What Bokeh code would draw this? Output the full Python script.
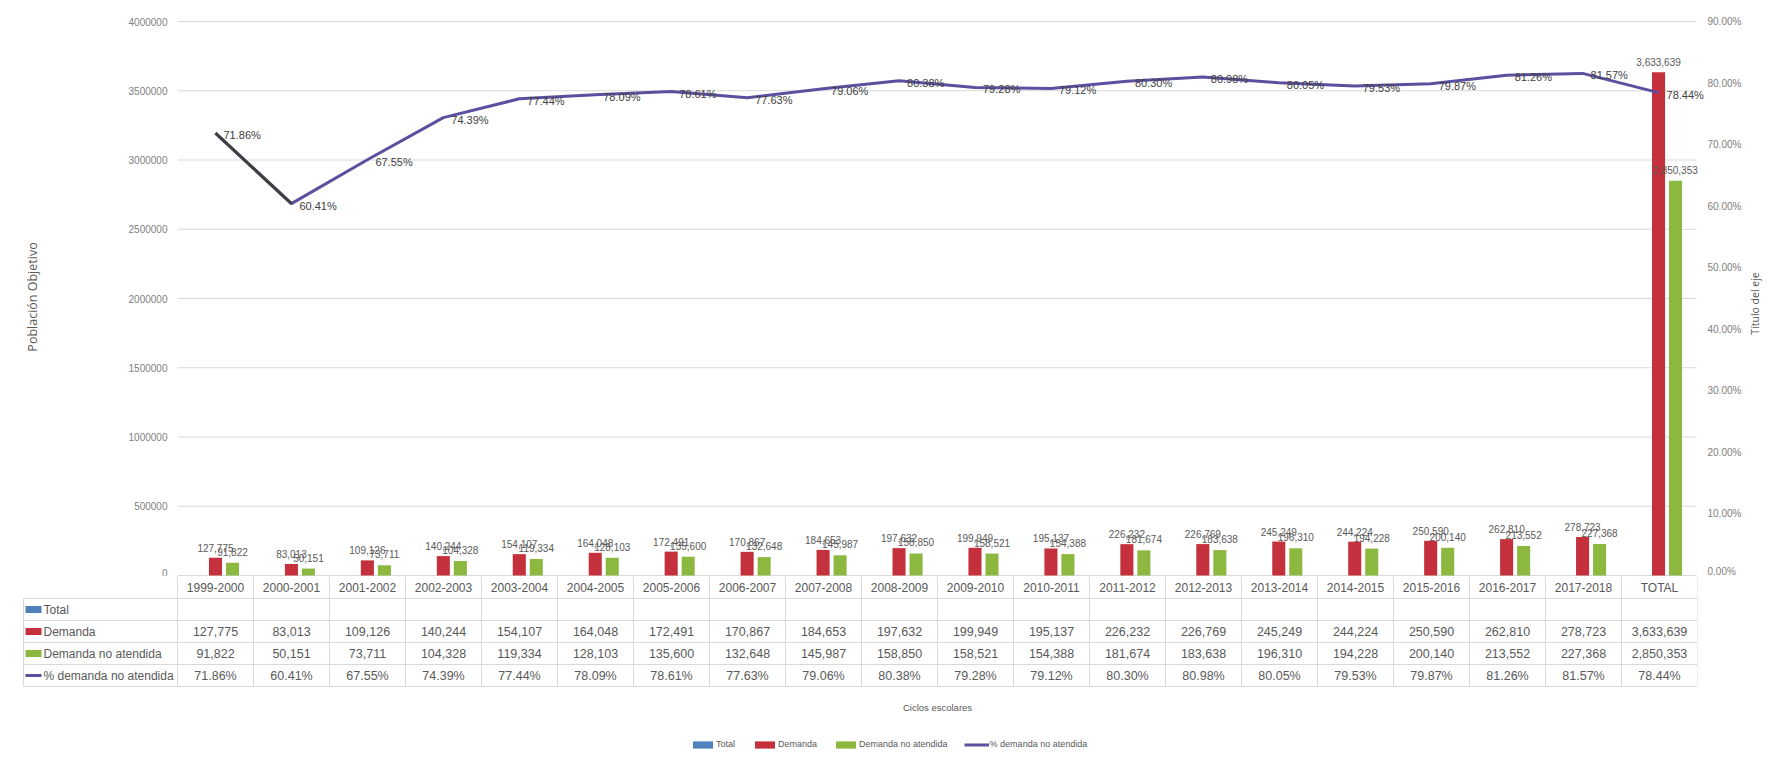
import math
import numpy as np
from bokeh.plotting import figure
from bokeh.models import (Range1d, LinearAxis, FixedTicker, NumeralTickFormatter,
                          Legend, LegendItem)
from bokeh.layouts import column, row
from bokeh.embed import file_html
from bokeh.resources import INLINE
from bokeh.core.properties import value

# ---------------- data ----------------
ciclos = ["1999-2000", "2000-2001", "2001-2002", "2002-2003", "2003-2004",
          "2004-2005", "2005-2006", "2006-2007", "2007-2008", "2008-2009",
          "2009-2010", "2010-2011", "2011-2012", "2012-2013", "2013-2014",
          "2014-2015", "2015-2016", "2016-2017", "2017-2018", "TOTAL"]
demanda = [127775, 83013, 109126, 140244, 154107, 164048, 172491, 170867, 184653,
           197632, 199949, 195137, 226232, 226769, 245249, 244224, 250590, 262810,
           278723, 3633639]
no_atendida = [91822, 50151, 73711, 104328, 119334, 128103, 135600, 132648, 145987,
               158850, 158521, 154388, 181674, 183638, 196310, 194228, 200140, 213552,
               227368, 2850353]
pct_no_atendida = [71.86, 60.41, 67.55, 74.39, 77.44, 78.09, 78.61, 77.63, 79.06,
                   80.38, 79.28, 79.12, 80.30, 80.98, 80.05, 79.53, 79.87, 81.26,
                   81.57, 78.44]
series_names = ["Total", "Demanda", "Demanda no atendida", "% demanda no atendida"]
left_ticks = [0, 500000, 1000000, 1500000, 2000000, 2500000, 3000000, 3500000, 4000000]
right_ticks = [0.0, 0.1, 0.2, 0.3, 0.4, 0.5, 0.6, 0.7, 0.8, 0.9]
x_title = "Ciclos escolares"
y_title = "Población Objetivo"
y2_title = "Título del eje"

# ---------------- style ----------------
FONT = "Liberation Sans"
TITLE_FONT = "Open Sans"
BLUE = "#4F81BD"
RED = "#C4303B"
GREEN = "#8DB840"
PURPLE = "#5B4F9F"
DARK = "#404040"
TXT = "#595959"
GRID = "#D9D9D9"

n = len(ciclos)
xc = np.arange(n) + 0.5
BAR_W = 0.172
DODGE = 0.224

pct_frac = [v / 100.0 for v in pct_no_atendida]
dem_lbl = [f"{v:,}" for v in demanda]
na_lbl = [f"{v:,}" for v in no_atendida]
pct_lbl = [f"{v:.2f}%" for v in pct_no_atendida]

W = 1769
WT = 25                     # strip on the right holding the secondary axis title
W1 = W - WT
FL, FR = 177, 1697          # category area left/right (page px)
FR1 = 1706                  # frame right of the chart (room for last label)
cw = (FR - FL) / float(n)   # px per category
H1 = 576

# ---------------- chart ----------------
ppx = 4000000 / 554.0
qpx = 0.9 / 554.0
p1 = figure(width=W1, height=H1,
            x_range=Range1d(0, n + (FR1 - FR) / cw),
            y_range=Range1d(-1 * ppx, 4000000 + 4 * ppx),
            x_axis_location=None, output_backend="svg", toolbar_location=None,
            min_border_left=FL, min_border_right=W1 - FR1, min_border_top=17,
            min_border_bottom=0, outline_line_color=None)
p1.extra_y_ranges = {"pct": Range1d(-1 * qpx, 0.9 + 4 * qpx)}

ax = p1.yaxis[0]
ax.ticker = FixedTicker(ticks=left_ticks)
ax.formatter = NumeralTickFormatter(format="0")

rax = LinearAxis(y_range_name="pct", ticker=FixedTicker(ticks=right_ticks),
                 formatter=NumeralTickFormatter(format="0.00%"))
p1.add_layout(rax, "right")

for a in (ax, rax):
    a.axis_line_color = None
    a.major_tick_line_color = None
    a.minor_tick_line_color = None
    a.major_tick_out = 0
    a.major_tick_in = 0
    a.major_label_text_font = FONT
    a.major_label_text_font_size = "10px"
    a.major_label_text_color = "#808080"
    a.axis_label_text_font = TITLE_FONT
    a.axis_label_text_font_style = "normal"
    a.axis_label_text_color = TXT

ax.major_label_standoff = 10
ax.axis_label = y_title
ax.axis_label_text_font_size = "12.5px"
ax.axis_label_standoff = 85
rax.major_label_standoff = 2

p1.xgrid.visible = False
p1.ygrid.visible = False
p1.segment(x0=[0] * len(left_ticks), x1=[n] * len(left_ticks), y0=left_ticks,
           y1=left_ticks, line_color=GRID, line_width=1)

p1.vbar(x=xc, top=demanda, width=BAR_W, fill_color=RED, line_color=None)
p1.vbar(x=xc + DODGE, top=no_atendida, width=BAR_W, fill_color=GREEN, line_color=None)

p1.text(x=xc, y=demanda, text=dem_lbl, text_align="center", text_baseline="bottom",
        y_offset=-6, text_font=value(FONT), text_font_size="10px", text_color=TXT)
p1.text(x=xc + DODGE, y=no_atendida, text=na_lbl, text_align="center",
        text_baseline="bottom", y_offset=-7, text_font=value(FONT),
        text_font_size="10px", text_color=TXT)

p1.line(x=xc, y=pct_frac, y_range_name="pct", line_color=PURPLE, line_width=3)
p1.line(x=xc[:2], y=pct_frac[:2], y_range_name="pct", line_color=DARK, line_width=3)
p1.text(x=xc, y=pct_frac, text=pct_lbl, y_range_name="pct", text_align="left",
        text_baseline="middle", x_offset=8, y_offset=2, text_font=value(FONT),
        text_font_size="11px", text_color=DARK)

# ---------------- secondary axis title strip ----------------
pT = figure(width=WT, height=H1, x_range=Range1d(0, WT), y_range=Range1d(H1, 0),
            x_axis_location=None, y_axis_location=None, output_backend="svg",
            toolbar_location=None, min_border_left=0, min_border_right=0,
            min_border_top=0, min_border_bottom=0, outline_line_color=None)
pT.grid.visible = False
pT.text(x=[1754 - W1], y=[303], text=[y2_title], angle=math.pi / 2,
        text_align="center", text_baseline="middle", text_font=value(TITLE_FONT),
        text_font_size="10.5px", text_color=TXT)

# ---------------- data table ----------------
TL = 18
H2 = 182
p2 = figure(width=W, height=H2,
            x_range=Range1d(-(FL - TL) / cw, n), y_range=Range1d(H2, 0),
            x_axis_location=None, y_axis_location=None,
            output_backend="svg", toolbar_location=None,
            min_border_left=TL, min_border_right=W - FR, min_border_top=0,
            min_border_bottom=0, outline_line_color=None)
p2.grid.visible = False
for p in (p1, pT, p2):
    try:
        p.frame_align = False
    except Exception:
        pass

rows = [0, 22, 44, 66, 88, 110]
centers = [11, 33, 55, 77, 99]
tl = -(FL - 23) / cw
p2.segment(x0=[tl] * 5, x1=[n] * 5, y0=rows[1:], y1=rows[1:], line_color=GRID, line_width=1)
vx = list(range(n + 1))
p2.segment(x0=vx, x1=vx, y0=[0] * len(vx), y1=[rows[-1]] * len(vx), line_color=GRID, line_width=1)
p2.segment(x0=[tl], x1=[tl], y0=[22], y1=[rows[-1]], line_color=GRID, line_width=1)

kx0, kx1 = -(FL - 25) / cw, -(FL - 41) / cw
r_blue = p2.quad(left=[kx0], right=[kx1], top=[centers[1] - 3.5], bottom=[centers[1] + 3.5],
                 fill_color=BLUE, line_color=None)
r_red = p2.quad(left=[kx0], right=[kx1], top=[centers[2] - 3.5], bottom=[centers[2] + 3.5],
                fill_color=RED, line_color=None)
r_green = p2.quad(left=[kx0], right=[kx1], top=[centers[3] - 3.5], bottom=[centers[3] + 3.5],
                  fill_color=GREEN, line_color=None)
r_line = p2.segment(x0=[kx0], x1=[kx1], y0=[centers[4]], y1=[centers[4]],
                    line_color=PURPLE, line_width=3)

p2.text(x=[-(FL - 43) / cw] * 4, y=centers[1:], text=series_names, text_align="left",
        text_baseline="middle", text_font=value(FONT), text_font_size="12px", text_color=TXT)
p2.text(x=xc, y=[centers[0]] * n, text=ciclos, text_align="center", text_baseline="middle",
        text_font=value(FONT), text_font_size="12px", text_color=TXT)
p2.text(x=xc, y=[centers[2]] * n, text=dem_lbl, text_align="center", text_baseline="middle",
        text_font=value(FONT), text_font_size="12.5px", text_color=TXT)
p2.text(x=xc, y=[centers[3]] * n, text=na_lbl, text_align="center", text_baseline="middle",
        text_font=value(FONT), text_font_size="12.5px", text_color=TXT)
p2.text(x=xc, y=[centers[4]] * n, text=pct_lbl, text_align="center", text_baseline="middle",
        text_font=value(FONT), text_font_size="12.5px", text_color=TXT)

p2.text(x=[n / 2.0], y=[131], text=[x_title], text_align="center", text_baseline="middle",
        text_font=value(FONT), text_font_size="9.5px", text_color=TXT)

legend = Legend(items=[LegendItem(label=series_names[0], renderers=[r_blue]),
                       LegendItem(label=series_names[1], renderers=[r_red]),
                       LegendItem(label=series_names[2], renderers=[r_green]),
                       LegendItem(label=series_names[3], renderers=[r_line])],
                orientation="horizontal", location=(690 - TL, 9),
                glyph_width=25, glyph_height=9, label_standoff=1, spacing=16,
                padding=0, margin=0, label_height=9,
                label_text_font=FONT, label_text_font_size="9px",
                label_text_color=TXT, border_line_color=None,
                background_fill_alpha=0)
p2.add_layout(legend)

layout = column(row(p1, pT, spacing=0), p2, spacing=0)
open("out.html", "w").write(file_html(layout, INLINE))
